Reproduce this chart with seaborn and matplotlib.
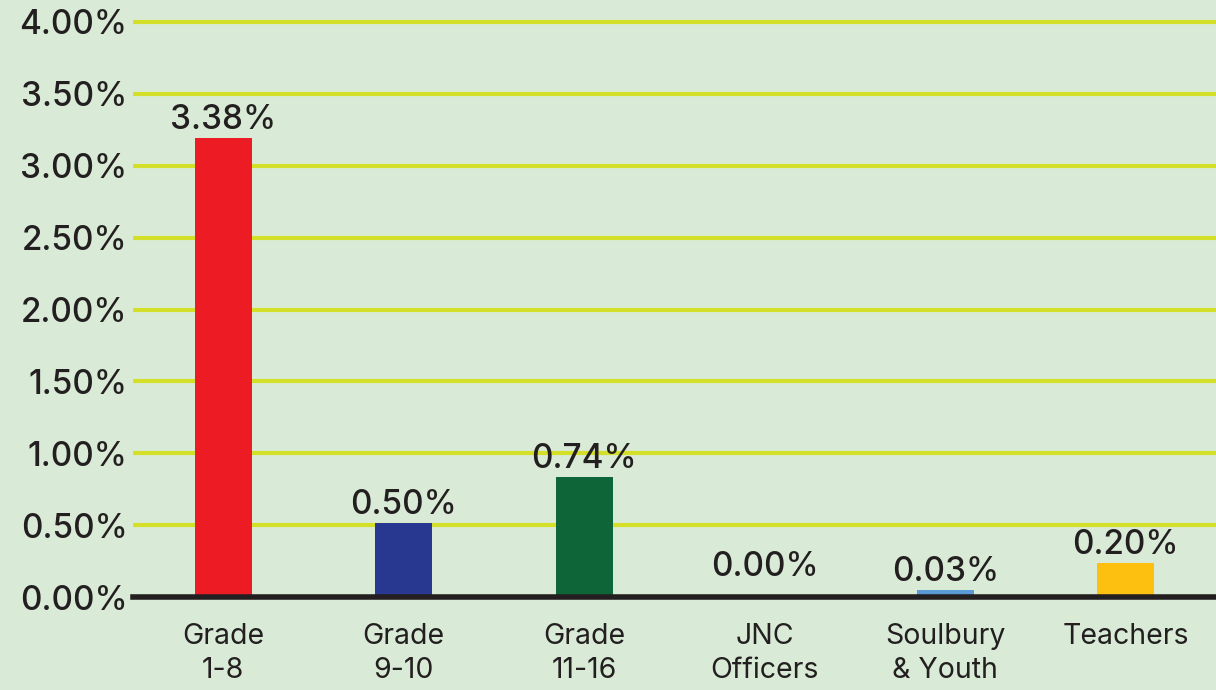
import numpy as np
import pandas as pd
import matplotlib
matplotlib.use("Agg")
import matplotlib.pyplot as plt
import seaborn as sns

# dados
categorias = ["Grade\n1-8", "Grade\n9-10", "Grade\n11-16", "JNC\nOfficers", "Soulbury\n& Youth", "Teachers"]
alturas = [3.19, 0.515, 0.835, 0.0, 0.05, 0.235]
rotulos = ["3.38%", "0.50%", "0.74%", "0.00%", "0.03%", "0.20%"]
cores = ["#ED1C24", "#283891", "#0E6638", "#5B9BD5", "#5B9BD5", "#FDC010"]
ticks_y = [0.0, 0.5, 1.0, 1.5, 2.0, 2.5, 3.0, 3.5, 4.0]

df = pd.DataFrame({"cat": categorias, "valor": alturas})

sns.set_theme(style="white")
plt.rcParams["font.family"] = ["Inter", "DejaVu Sans"]

fundo = "#D9EBD6"
texto = "#231F20"
fig = plt.figure(figsize=(12.16, 6.9), dpi=100, facecolor=fundo)
ax = fig.add_axes([133 / 1216, 93 / 690, 1083 / 1216, 4.04 * 143.75 / 690])
ax.set_facecolor(fundo)

sns.barplot(data=df, x="cat", y="valor", hue="cat", palette=cores,
            legend=False, width=0.315, saturation=1, linewidth=0, ax=ax, zorder=3)

ax.set_ylim(0, 4.04)
ax.set_xlim(-0.5, 5.5)
ax.set_yticks(ticks_y)
ax.set_yticklabels([f"{t:.2f}%" for t in ticks_y], fontsize=24, color=texto, fontweight="medium")
ax.yaxis.grid(True, color="#D4DF2A", linewidth=3)
ax.set_axisbelow(True)
ax.tick_params(axis="y", length=0, pad=4)
ax.tick_params(axis="x", length=0, pad=19)
for lbl in ax.get_xticklabels():
    lbl.set_fontsize(20.5)
    lbl.set_color(texto)
    lbl.set_linespacing(1.3)
ax.set_xlabel("")
ax.set_ylabel("")
for s in ["top", "right", "left"]:
    ax.spines[s].set_visible(False)
ax.spines["bottom"].set_color(texto)
ax.spines["bottom"].set_linewidth(4)
ax.spines["bottom"].set_zorder(4)

for i, (h, txt) in enumerate(zip(alturas, rotulos)):
    ax.annotate(txt, (i, h), xytext=(0, 1.5 if h > 0 else 10), textcoords="offset points",
                ha="center", va="bottom", fontsize=24, fontweight="medium",
                color=texto, zorder=5)

fig.savefig("out.png", dpi=100, facecolor=fundo)
